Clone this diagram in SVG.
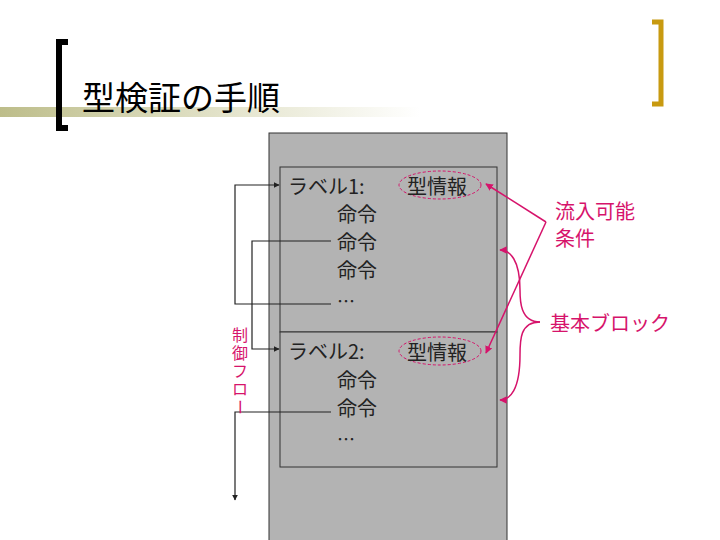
<svg xmlns="http://www.w3.org/2000/svg" width="720" height="540" viewBox="0 0 720 540">
<defs>
<linearGradient id="bar" x1="0" x2="1"><stop offset="0" stop-color="#bdbd8a"/><stop offset="0.55" stop-color="#e4e4cc"/><stop offset="1" stop-color="#fff"/></linearGradient>
<marker id="ab" viewBox="0 0 10 10" refX="9" refY="5" markerWidth="5" markerHeight="5" orient="auto"><path d="M0,0L10,5L0,10z" fill="#222"/></marker>
<marker id="ap" viewBox="0 0 10 10" refX="9" refY="5" markerWidth="5" markerHeight="5" orient="auto"><path d="M0,0L10,5L0,10z" fill="#d6136b"/></marker>
<style>
.t{font-family:"Noto Sans CJK JP","Liberation Sans",sans-serif;fill:#222}
.p{font-family:"Noto Sans CJK JP",sans-serif;fill:#d6136b}
.fl{fill:none;stroke:#222;stroke-width:1.2}
.pl{fill:none;stroke:#d6136b;stroke-width:1.5}
</style>
</defs>
<rect width="720" height="540" fill="#fff"/>
<rect x="0" y="107" width="420" height="10" fill="url(#bar)"/>
<path d="M68,42H59V128H68" fill="none" stroke="#000" stroke-width="6"/>
<path d="M652,22H661V104H652" fill="none" stroke="#c89a10" stroke-width="5"/>
<text class="t" x="82" y="110" font-size="33" style="fill:#000">型検証の手順</text>
<g id="outer"><rect x="269" y="133" width="238" height="420" fill="#b3b3b3" stroke="#333"/></g>
<g id="block1"><rect x="280" y="167" width="217" height="165" fill="#b3b3b3" stroke="#333"/>
<text class="t" x="288" y="194" font-size="20">ラベル1:</text>
<ellipse cx="440" cy="185" rx="41" ry="14" fill="none" stroke="#d6136b" stroke-dasharray="3,2"/>
<text class="t" x="407" y="194" font-size="20">型情報</text>
<text class="t" x="337" y="222" font-size="20">命令</text>
<text class="t" x="337" y="250" font-size="20">命令</text>
<text class="t" x="337" y="278" font-size="20">命令</text>
<text class="t" x="337" y="308" font-size="18">…</text></g>
<g id="block2"><rect x="280" y="332" width="217" height="135" fill="#b3b3b3" stroke="#333"/>
<text class="t" x="288" y="359" font-size="20">ラベル2:</text>
<ellipse cx="440" cy="351" rx="41" ry="14" fill="none" stroke="#d6136b" stroke-dasharray="3,2"/>
<text class="t" x="407" y="360" font-size="20">型情報</text>
<text class="t" x="337" y="388" font-size="20">命令</text>
<text class="t" x="337" y="416" font-size="20">命令</text>
<text class="t" x="337" y="446" font-size="18">…</text></g>
<g id="connectors">
<path class="fl" d="M331,304H235V185H279" marker-end="url(#ab)"/>
<path class="fl" d="M331,241H252V349H279" marker-end="url(#ab)"/>
<path class="fl" d="M331,412H235V500" marker-end="url(#ab)"/>
<path class="pl" d="M546,222L486,184" marker-end="url(#ap)"/>
<path class="pl" d="M546,222L486,353" marker-end="url(#ap)"/>
<path class="pl" d="M540,322C520,322 520,300 520,290C520,260 510,250 500,250" marker-end="url(#ap)"/>
<path class="pl" d="M540,322C520,322 520,340 520,355C520,390 510,400 500,400" marker-end="url(#ap)"/>
</g>
<g id="flowlabel" font-size="16" text-anchor="middle">
<text class="p" x="240" y="341">制</text>
<text class="p" x="240" y="359">御</text>
<text class="p" x="240" y="377">フ</text>
<text class="p" x="240" y="395">ロ</text>
<text class="p" x="240" y="413" transform="rotate(90 240 407)">ー</text>
</g>
<text class="p" x="555" y="219" font-size="20">流入可能</text>
<text class="p" x="555" y="246" font-size="20">条件</text>
<text class="p" x="550" y="331" font-size="20">基本ブロック</text>
</svg>
